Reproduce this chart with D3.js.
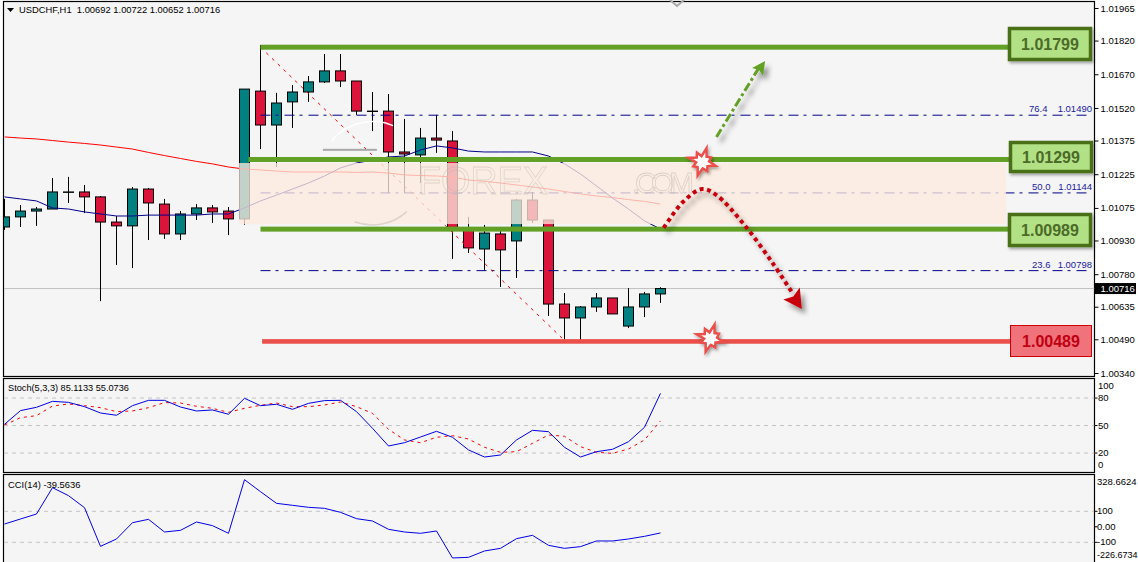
<!DOCTYPE html>
<html><head><meta charset="utf-8">
<script src="https://cdn.jsdelivr.net/npm/d3@7/dist/d3.min.js"></script>
<style>html,body{margin:0;padding:0;background:#fff;overflow:hidden}svg{display:block}text{font-family:"Liberation Sans",Arial,sans-serif}</style>
</head><body><svg id="c" width="1138" height="562"></svg>
<script>
const opens  = [1.00990,1.01035,1.01061,1.01070,1.01146,1.01146,1.01124,1.01012,1.00995,1.01159,1.01092,1.00959,1.01048,1.01075,1.01061,1.01026,1.01595,1.01444,1.01547,1.01591,1.01636,1.01685,1.01640,1.01506,1.01506,1.01324,1.01311,1.01386,1.01373,1.00981,1.00892,1.00959,1.00928,1.01110,1.01021,1.00647,1.00585,1.00634,1.00674,1.00549,1.00634,1.00692];
const highs  = [1.01115,1.01088,1.01079,1.01208,1.01213,1.01177,1.01128,1.01039,1.01168,1.01164,1.01115,1.01061,1.01092,1.01088,1.01079,1.01604,1.01800,1.01587,1.01622,1.01662,1.01760,1.01760,1.01640,1.01591,1.01582,1.01471,1.01431,1.01489,1.01417,1.01035,1.00999,1.00977,1.01115,1.01146,1.01021,1.00696,1.00638,1.00696,1.00674,1.00718,1.00701,1.00722];
const lows   = [1.00977,1.00990,1.00995,1.01070,1.01097,1.01052,1.00660,1.00821,1.00807,1.00932,1.00937,1.00932,1.01021,1.01008,1.00954,1.01000,1.01337,1.01257,1.01431,1.01547,1.01631,1.01613,1.01489,1.01417,1.01141,1.01141,1.01186,1.01320,1.00848,1.00874,1.00799,1.00723,1.00763,1.01008,1.00594,1.00487,1.00487,1.00612,1.00603,1.00540,1.00589,1.00652];
const closes = [1.01035,1.01061,1.01070,1.01146,1.01146,1.01124,1.01012,1.00995,1.01159,1.01097,1.00959,1.01048,1.01075,1.01057,1.01026,1.01604,1.01444,1.01542,1.01591,1.01636,1.01685,1.01640,1.01506,1.01506,1.01324,1.01315,1.01386,1.01377,1.00986,1.00897,1.00963,1.00888,1.01110,1.01021,1.00647,1.00585,1.00634,1.00674,1.00603,1.00634,1.00692,1.00716];
const maRed  = [1.01391,1.01386,1.01382,1.01375,1.01368,1.01362,1.01355,1.01346,1.01337,1.01322,1.01308,1.01295,1.01282,1.01271,1.01257,1.01248,1.01244,1.01239,1.01235,1.01235,1.01235,1.01235,1.01233,1.01235,1.01230,1.01222,1.01219,1.01217,1.01213,1.01199,1.01193,1.01186,1.01177,1.01168,1.01159,1.01148,1.01137,1.01128,1.01121,1.01112,1.01104,1.01092];
const maBlue = [1.01124,1.01115,1.01106,1.01075,1.01070,1.01057,1.01048,1.01039,1.01039,1.01043,1.01043,1.01043,1.01043,1.01048,1.01048,1.01075,1.01106,1.01132,1.01159,1.01186,1.01217,1.01253,1.01275,1.01288,1.01302,1.01306,1.01333,1.01351,1.01342,1.01328,1.01324,1.01324,1.01324,1.01324,1.01306,1.01271,1.01226,1.01173,1.01119,1.01070,1.01017,1.00981];
const stochMain = [51.3,66.3,69.9,76.4,75.3,70.6,63.7,61.2,71.7,77.5,77.5,70.2,65.9,67,62.3,79.7,71.7,73.2,67.7,74.2,77.2,77.5,65.2,47,27.7,31.3,37.5,43.7,37.2,23.4,15.7,17.9,34.3,44.8,43.3,26.3,15.7,21.5,24.1,32.4,48.1,85.11];
const stochSignal = [50.6,58.6,60.8,71.3,73.5,71.7,69.5,65.2,65.9,69.5,75,74.6,71,68.8,64.4,68.8,72.1,74.6,70.6,70.6,72.4,75.7,70.6,63.3,45.9,34.3,31.3,37.2,39,35.3,26.3,20.8,21.5,30.6,39.7,38.3,27,20.8,19.7,24.4,34.3,55.07];
const cci = [18,50.4,82.6,252.5,201,123.5,-126,-78.6,26.7,48.2,-33.5,-22.7,31,7.4,-42,304,226.7,151.4,138.6,125.7,119.2,93.4,52.5,37.5,-16.3,-33.5,-42,-27,-201,-197,-156,-139,-76.5,-55,-119.5,-139,-128,-91.5,-91.5,-78.6,-61.4,-39.56];

const priceTicks = ["1.01965","1.01820","1.01670","1.01520","1.01375","1.01225","1.01075","1.00930","1.00780","1.00635","1.00490","1.00340"];
const stochTicks = [100,80,50,20,0];
const cciTicks = [328.6624,100,0,-100,-226.6734];
const greenLevels = [1.01799,1.01299,1.00989];
const greenLabels = ["1.01799","1.01299","1.00989"];
const redLevel = 1.00489;
const fibLevels = [1.01490,1.01144,1.00798];
const fibNames = ["76.4","50.0","23.6"];
const fibValueLabels = ["1.01490","1.01144","1.00798"];
const lastPrice = 1.00716;
const title = "USDCHF,H1  1.00692 1.00722 1.00652 1.00716";
const stochTitle = "Stoch(5,3,3) 85.1133 55.0736";
const cciTitle = "CCI(14) -39.5636";
const forecastDown = [[41.2,1.00986],[42.4,1.01101],[43.6,1.01159],[44.5,1.01132],[46.2,1.01003],[48,1.00830],[49.3,1.00690]];
const forecastUp = [[44.5,1.01391],[47.1,1.01693]];
const bursts = [[43.6,1.01280],[44.1,1.00495]];

const svg = d3.select("#c");
const x = d3.scaleLinear().domain([0,41]).range([4.5,660.5]);
const y = d3.scaleLinear().domain([1.00340,1.01965]).range([373,8]);
const yS = d3.scaleLinear().domain([0,100]).range([471.4,379.7]);
const yC = d3.scaleLinear().domain([-100,100]).range([542.3,511.3]);
const AXIS = 1094.5, levelShift = 1.9;

const defs = svg.append("defs");
const f = defs.append("filter").attr("id","sh").attr("x","-40%").attr("y","-40%").attr("width","200%").attr("height","200%");
f.append("feDropShadow").attr("dx",4).attr("dy",5).attr("stdDeviation",2.5).attr("flood-color","#000").attr("flood-opacity",.4);
const f2 = defs.append("filter").attr("id","sb").attr("x","-20%").attr("y","-20%").attr("width","150%").attr("height","160%");
f2.append("feDropShadow").attr("dx",1.5).attr("dy",2).attr("stdDeviation",1.5).attr("flood-color","#000").attr("flood-opacity",.35);
defs.append("clipPath").attr("id","main").append("rect").attr("x",4).attr("y",2).attr("width",AXIS-4).attr("height",374);
defs.append("clipPath").attr("id","sub2").append("rect").attr("x",4).attr("y",475).attr("width",AXIS-4).attr("height",87);

// panels
[[1.5,375],[378.5,94],[474.5,100]].forEach(([t,h])=>{
  svg.append("rect").attr("x",3.5).attr("y",t).attr("width",AXIS-3.5).attr("height",h).attr("fill","#f5f5f5").attr("stroke","#000").attr("stroke-width",1.2);
});

const g = svg.append("g").attr("clip-path","url(#main)");
// current price line
g.append("line").attr("x1",4).attr("x2",AXIS).attr("y1",y(lastPrice)).attr("y2",y(lastPrice)).attr("stroke","#c0c0c0").attr("stroke-width",1);

// candles
const idx = d3.range(opens.length), bw = 10;
g.selectAll("line.w").data(idx).join("line").attr("class","w").attr("x1",i=>x(i)).attr("x2",i=>x(i))
 .attr("y1",i=>y(highs[i])).attr("y2",i=>y(lows[i])).attr("stroke","#000").attr("stroke-width",1);
g.selectAll("rect.b").data(idx).join("rect").attr("class","b")
 .attr("x",i=>x(i)-bw/2).attr("width",bw)
 .attr("y",i=>y(Math.max(opens[i],closes[i])))
 .attr("height",i=>Math.max(Math.abs(y(opens[i])-y(closes[i])),0.4))
 .attr("fill",i=>closes[i]>=opens[i]?"#008080":"#dc143c").attr("stroke","#000").attr("stroke-width",1);

// moving averages
const line = d3.line().x((d,i)=>x(i)).y(d=>y(d));
g.append("path").attr("d",line(maRed)).attr("fill","none").attr("stroke","#ff0000").attr("stroke-width",1);
g.append("path").attr("d",line(maBlue)).attr("fill","none").attr("stroke","#00008b").attr("stroke-width",1);

// fibo
const fibX1 = x(16), fibX2 = 1091;
fibLevels.forEach(p=>{
  g.append("line").attr("x1",fibX1).attr("x2",fibX2).attr("y1",y(p)+.5).attr("y2",y(p)+.5).attr("stroke","#00008b").attr("stroke-width",1).attr("stroke-dasharray","10,5,3,6");
});
g.append("line").attr("x1",x(16)).attr("y1",y(greenLevels[0])+2).attr("x2",x(35)).attr("y2",y(redLevel)+1)
 .attr("stroke","#ff0000").attr("stroke-width",1).attr("stroke-dasharray","3,5");
fibLevels.forEach((p,k)=>{
  const ty = y(p)-2.5;
  g.append("text").attr("x",k==0?1029:1032).attr("y",ty).attr("font-size",9.5).attr("fill","#1a1aa0").text(fibNames[k]);
  g.append("text").attr("x",1092).attr("y",ty).attr("text-anchor","end").attr("font-size",9.5).attr("fill","#1a1aa0").text(fibValueLabels[k]);
});

// band
g.append("rect").attr("x",x(14.66)).attr("width",x(62.6)-x(14.66)).attr("y",y(1.01275)).attr("height",y(1.01003)-y(1.01275))
 .attr("fill","#fdeadd").attr("opacity",.77);

// watermark
const wm = g.append("g").attr("fill","none");
wm.append("path").attr("transform",`translate(${x(23)},${y(1.01225)})`).attr("d",d3.arc()({innerRadius:52,outerRadius:53.5,startAngle:-0.9,endAngle:0.4})).attr("fill","#fff");
wm.append("path").attr("transform",`translate(${x(23)},${y(1.01225)})`).attr("d",d3.arc()({innerRadius:50,outerRadius:51.5,startAngle:2.4,endAngle:3.5})).attr("fill","#cfc8c0").attr("opacity",.7);
wm.append("rect").attr("x",x(19.9)).attr("y",y(1.01338)).attr("width",54).attr("height",2).attr("fill","#a8a8a8");
wm.append("text").attr("x",418).attr("y",194).attr("font-size",38).attr("textLength",130).attr("stroke","#b5aea6").attr("stroke-width",.8).attr("opacity",.4).text("FOREX");
wm.append("text").attr("x",632).attr("y",193).attr("font-size",30).attr("textLength",62).attr("stroke","#b5aea6").attr("stroke-width",.8).attr("opacity",.45).text(".COM");

// levels
const greenStarts = [16,15.25,16];
greenLevels.forEach((p,k)=>{
  g.append("rect").attr("x",x(greenStarts[k])).attr("width",1012-x(greenStarts[k])).attr("y",y(p)+levelShift-2.5).attr("height",5).attr("fill","#62a026");
});
g.append("rect").attr("x",x(16.1)).attr("width",1012-x(16.1)).attr("y",y(redLevel)+levelShift-2.3).attr("height",4.6).attr("fill","#ea4f4a");

// forecast arrows
const curve = d3.line().x(d=>x(d[0])).y(d=>y(d[1])).curve(d3.curveCatmullRom);
const down = svg.append("g").attr("filter","url(#sh)");
down.append("path").attr("d",curve(forecastDown)).attr("fill","none").attr("stroke","#c8000c").attr("stroke-width",4).attr("stroke-dasharray","4,3.6");
const tipD = forecastDown[forecastDown.length-1];
const tdx=x(tipD[0]), tdy=y(tipD[1]);
down.append("path").attr("d",d3.line()([[tdx+8.5,tdy+14.5],[tdx-10,tdy+5],[tdx,tdy+2],[tdx+6.5,tdy-7]])).attr("fill","#c8000c");

const up = svg.append("g").attr("filter","url(#sh)");
const [u0,u1] = forecastUp;
up.append("line").attr("x1",x(u0[0])).attr("y1",y(u0[1])).attr("x2",x(u1[0])).attr("y2",y(u1[1]))
  .attr("stroke","#62a026").attr("stroke-width",3).attr("stroke-dasharray","9,3,3,3");
const ux=x(u1[0]), uy=y(u1[1]);
up.append("path").attr("d",d3.line()([[ux+7,uy-8],[ux-6,uy-1],[ux+1,uy+1],[ux+5,uy+7]])).attr("fill","#62a026");

// bursts
const burstR = [14,7,11,7,15,7,10,6,14,7,11,6,15,7,10,7];
bursts.forEach(([i,p])=>{
  const pts = burstR.map((r,k)=>{const a=k/burstR.length*2*Math.PI+.3;return [x(i)+r*Math.cos(a),y(p)+r*.95*Math.sin(a)];});
  svg.append("path").attr("d",d3.line()(pts)+"Z").attr("fill","#fff").attr("stroke","#ea4f4a").attr("stroke-width",2.5).attr("stroke-linejoin","miter").attr("filter","url(#sb)");
});

// level labels
const boxes = [[1008,27,84,34],[1009,141,84,32],[1008,213,84,34]];
greenLabels.forEach((t,k)=>{
  const [bx,by,bwd,bh]=boxes[k];
  svg.append("rect").attr("x",bx+1.5).attr("y",by+1.5).attr("width",bwd-3).attr("height",bh-3).attr("fill","#b1e184").attr("stroke","#4a7018").attr("stroke-width",3.5).attr("filter","url(#sb)");
  svg.append("text").attr("x",bx+bwd/2).attr("y",by+bh/2+5.5).attr("text-anchor","middle").attr("font-size",16).attr("font-weight","bold").attr("fill","#4c6a28").text(t);
});
svg.append("rect").attr("x",1010.5).attr("y",325.5).attr("width",81).attr("height",31).attr("fill","#f0727a").attr("stroke","#cc0000").attr("stroke-width",1);
svg.append("text").attr("x",1051).attr("y",346.5).attr("text-anchor","middle").attr("font-size",16).attr("font-weight","bold").attr("fill","#c00012").text(redLevel.toFixed(5));

// titles
svg.append("path").attr("d",d3.line()([[7,8],[14,8],[10.5,12]])+"Z").attr("fill","#000");
svg.append("text").attr("x",19).attr("y",12.5).attr("font-size",9.4).attr("fill","#000").attr("xml:space","preserve").style("white-space","pre").text(title);
svg.append("path").attr("d",d3.line()([[670,0],[677,6],[684,0]])).attr("fill","none").attr("stroke","#a8a8a8").attr("stroke-width",2);

// price axis
const axP = d3.axisRight(y).tickValues(priceTicks.map(Number)).tickFormat((d,i)=>priceTicks[i]).tickSize(4).tickPadding(2);
const aP = svg.append("g").attr("transform",`translate(${AXIS},0)`).call(axP);
aP.select(".domain").remove();
aP.selectAll("text").attr("font-size",9.5).attr("fill","#000").style("font-family",'"Liberation Sans"');
svg.append("rect").attr("x",1095).attr("y",y(lastPrice)-5.5).attr("width",41).attr("height",11).attr("fill","#000");
svg.append("text").attr("x",1100.5).attr("y",y(lastPrice)+3.5).attr("font-size",9.5).attr("fill","#fff").text(lastPrice.toFixed(5));

// stoch
const sg = svg.append("g");
[80,50,20].forEach(v=>sg.append("line").attr("x1",4).attr("x2",AXIS).attr("y1",yS(v)).attr("y2",yS(v)).attr("stroke","#c4c4c4").attr("stroke-dasharray","4,4"));
const lS = d3.line().x((d,i)=>x(i)).y(d=>yS(d));
sg.append("path").attr("d",lS(stochSignal)).attr("fill","none").attr("stroke","#ff0000").attr("stroke-dasharray","3,4");
sg.append("path").attr("d",lS(stochMain)).attr("fill","none").attr("stroke","#0000e6");
svg.append("text").attr("x",8).attr("y",391).attr("font-size",9.2).attr("fill","#000").text(stochTitle);
const stochShift = {100:6.5,0:-6};
stochTicks.forEach(v=>{
  const yy = yS(v);
  if(!(v in stochShift)) svg.append("line").attr("x1",AXIS).attr("x2",AXIS+3).attr("y1",yy).attr("y2",yy).attr("stroke","#000");
  svg.append("text").attr("x",1098).attr("y",yy+(stochShift[v]||0)+3).attr("font-size",9.5).attr("fill","#000").text(v);
});

// cci
const cg = svg.append("g").attr("clip-path","url(#sub2)");
[100,-100].forEach(v=>cg.append("line").attr("x1",4).attr("x2",AXIS).attr("y1",yC(v)).attr("y2",yC(v)).attr("stroke","#c4c4c4").attr("stroke-dasharray","4,4"));
const lC = d3.line().x((d,i)=>x(i)).y(d=>yC(d));
cg.append("path").attr("d",lC(cci)).attr("fill","none").attr("stroke","#0000e6");
svg.append("text").attr("x",8).attr("y",487.5).attr("font-size",9.4).attr("fill","#000").text(cciTitle);
const cciLabels = ["328.6624","100","0.00","-100","-226.6734"];
const cciShift = [6.5,0,0,0,-7];
cciTicks.forEach((v,k)=>{
  const yy = yC(v);
  if(k>0&&k<4) svg.append("line").attr("x1",AXIS).attr("x2",AXIS+3).attr("y1",yy).attr("y2",yy).attr("stroke","#000");
  svg.append("text").attr("x",1097).attr("y",yy+cciShift[k]+3).attr("font-size",k==4?9:9.5).attr("fill","#000").text(cciLabels[k]);
});
</script></body></html>
